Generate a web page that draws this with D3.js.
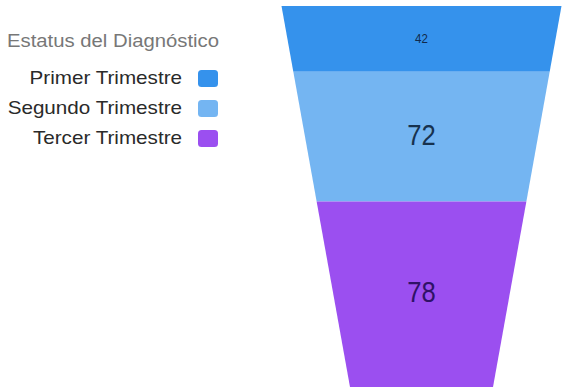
<!DOCTYPE html>
<html>
<head>
<meta charset="utf-8">
<script src="https://cdn.jsdelivr.net/npm/d3@7"></script>
<style>
  html, body { margin: 0; padding: 0; background: #ffffff; }
  svg { display: block; font-family: "Liberation Sans", Arial, sans-serif; }
</style>
</head>
<body>
<svg id="chart" width="562" height="389"></svg>
<script>
// ---- data ----
const legendTitle = "Estatus del Diagnóstico";
const categories = ["Primer Trimestre", "Segundo Trimestre", "Tercer Trimestre"];
const values = [42, 72, 78];
const colors = ["#3592ec", "#74b5f2", "#9b4ff0"];
const labelColors = ["#10294a", "#17324f", "#2f1266"];

// ---- layout ----
const svg = d3.select("#chart");
const funnelTop = 6, funnelBottom = 387, centerX = 421.5;
const topWidth = 280, bottomWidth = 143;
const H = funnelBottom - funnelTop;

const widthScale = d3.scaleLinear().domain([0, H]).range([topWidth, bottomWidth]);
const yScale = d3.scaleLinear().domain([0, H]).range([funnelTop, funnelBottom]);

// area-proportional segments
const k = (topWidth - bottomWidth) / H;
const totalArea = (topWidth + bottomWidth) / 2 * H;
const total = d3.sum(values);
const cum = [0, ...d3.cumsum(values)];
const depthForArea = A => (topWidth - Math.sqrt(topWidth * topWidth - 2 * k * A)) / k;
const depths = cum.map(c => c === total ? H : depthForArea(c / total * totalArea));

const segs = values.map((v, i) => ({
  value: v, cat: categories[i], color: colors[i], lc: labelColors[i],
  d0: depths[i], d1: depths[i + 1]
}));

const fontScale = d3.scaleLinear().domain([64, 110]).range([11.5, 27]).clamp(true);

svg.append("g").selectAll("path").data(segs).join("path")
  .attr("d", s => {
    const y0 = yScale(s.d0), y1 = yScale(s.d1);
    const w0 = widthScale(s.d0) / 2, w1 = widthScale(s.d1) / 2;
    return `M${centerX - w0},${y0}L${centerX + w0},${y0}L${centerX + w1},${y1}L${centerX - w1},${y1}Z`;
  })
  .attr("fill", s => s.color);

svg.append("g").selectAll("text").data(segs).join("text")
  .attr("transform", s => `translate(${centerX},${(yScale(s.d0) + yScale(s.d1)) / 2 - (s.d1 - s.d0 > 100 ? 2 : 0)}) scale(0.95,1.08)`)
  .attr("text-anchor", "middle")
  .attr("dominant-baseline", "central")
  .attr("font-size", s => fontScale(yScale(s.d1) - yScale(s.d0)))
  .attr("fill", s => s.lc)
  .text(s => s.value);

// ---- legend ----
const legend = svg.append("g");
legend.append("text")
  .attr("transform", `translate(7,47) scale(1.16,1)`)
  .attr("font-size", 17.5)
  .attr("fill", "#777777")
  .text(legendTitle);

const legendY = d3.scalePoint().domain(categories).range([78.5, 138.5]);
const items = legend.selectAll("g.item").data(categories).join("g").attr("class", "item");
items.append("rect")
  .attr("x", 198).attr("y", d => legendY(d) - 8.5)
  .attr("width", 20).attr("height", 17)
  .attr("rx", 3.5)
  .attr("fill", (d, i) => colors[i]);
items.append("text")
  .attr("transform", d => `translate(182,${legendY(d)}) scale(1.18,1)`)
  .attr("text-anchor", "end")
  .attr("dominant-baseline", "central")
  .attr("font-size", 17.5)
  .attr("fill", "#2a2a2a")
  .text(d => d);
</script>
</body>
</html>
